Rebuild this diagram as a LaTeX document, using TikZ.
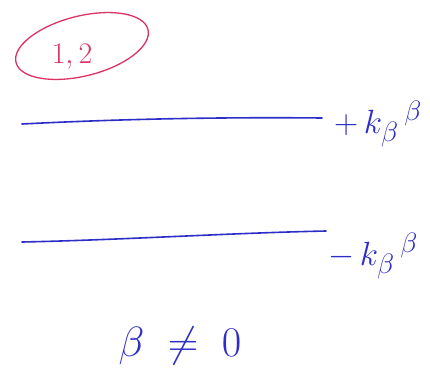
\documentclass[tikz,border=0pt]{standalone}
\usepackage{amsmath,amssymb}
\usepackage{graphicx}
\usepackage{tikz}
\usetikzlibrary{positioning}
\definecolor{ink}{RGB}{45,45,200}
\definecolor{redink}{RGB}{220,50,100}
\newcommand{\handsize}[2]{\scalebox{#1}{\fontsize{24.88}{30}\selectfont #2}}

\begin{document}
\begin{tikzpicture}[
  x=1pt,y=-1pt,
  stroke/.style={ink,line width=1.6pt,line cap=round},
  lab/.style={ink,inner sep=0pt,anchor=west}
]
\useasboundingbox[fill=white] (0,0) rectangle (430,383);
% circled tag
\draw[redink,line width=1.3pt,rotate around={14:(82,46)}] (82,46) ellipse (68 and 30);
\node[redink] (tag) at (72,57) {\handsize{1.2}{$1,2$}};
% upper level
\coordinate (ua) at (22,124);
\coordinate (ub) at (322,118);
\draw[stroke] (ua) .. controls (120,119) and (220,117) .. (ub);
\node[lab] (up) at (334,124) {\handsize{1.35}{$+\,k_{\beta}\,^{\beta}$}};
% lower level
\coordinate (la) at (22,242);
\coordinate (lb) at (326,231);
\draw[stroke] (la) .. controls (120,240) and (230,233) .. (lb);
\node[lab] (lo) at (328,256) {\handsize{1.35}{$-\,k_{\beta}\,^{\beta}$}};
% condition
\node[ink] (cond) at (180,346) {\handsize{1.7}{$\beta\;\neq\;0$}};
\end{tikzpicture}
\end{document}
